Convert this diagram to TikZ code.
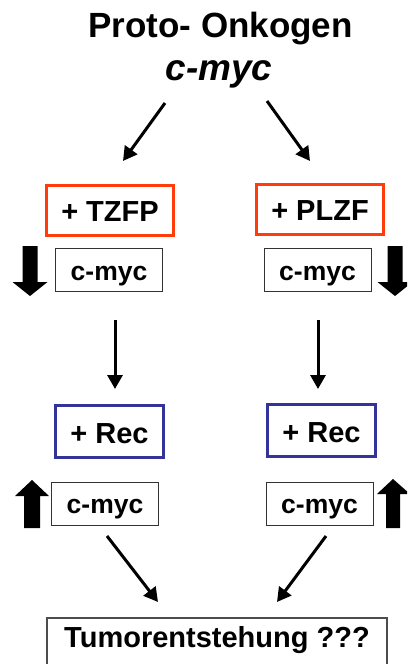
\documentclass[tikz,border=0pt]{standalone}
\usepackage{fontspec}
\setmainfont{Liberation Sans}
\usetikzlibrary{arrows.meta}
\definecolor{boxred}{RGB}{255,60,10}
\definecolor{boxblue}{RGB}{51,51,153}
\begin{document}
\begin{tikzpicture}[x=1pt,y=-1pt,
  fs/.style={font=\bfseries\fontsize{#1}{#1}\selectfont},
  redbox/.style={draw=boxred,line width=3pt,minimum width=127pt,minimum height=50pt,inner sep=0pt,text height=22.5pt,text depth=0pt,fs=29},
  bluebox/.style={draw=boxblue,line width=3pt,minimum width=108pt,minimum height=52pt,inner sep=0pt,text height=23.5pt,text depth=0pt,fs=29},
  genebox/.style={draw=black!80,line width=1pt,minimum width=107pt,minimum height=43pt,inner sep=0pt,text height=20pt,text depth=0pt,fs=26.5},
  flow/.style={line width=3pt,-{Triangle[length=14pt,width=15pt]}},
  blockarrow/.style={fill=black},
  framebox/.style={draw=black!70,line width=1.2pt}
]
\useasboundingbox (0,0) rectangle (407,664);
\clip (0,0) rectangle (407,664);

% title
\node[fs=35,anchor=base] (title) at (220.5,37) {Proto- Onkogen};
\node[font=\bfseries\itshape\fontsize{37}{37}\selectfont,anchor=base] (gene) at (219,80) {c-myc};

% red boxes
\node[redbox] (tzfp) at (110,210) {+ TZFP};
\node[redbox] (plzf) at (320,209.5) {+ PLZF};

% upper c-myc boxes
\node[genebox] (m1) at (109,270) {c-myc};
\node[genebox] (m2) at (317.5,270) {c-myc};

% blue boxes
\node[bluebox] (rec1) at (109.5,431.5) {+ Rec};
\node[bluebox] (rec2) at (321.5,430.5) {+ Rec};

% lower c-myc boxes
\node[genebox] (m3) at (105,503.5) {c-myc};
\node[genebox] (m4) at (319.5,503.5) {c-myc};

% final box (its lower edge lies beyond the picture)
\node[fs=29,anchor=base,inner sep=0pt] (tumor) at (217,647) {Tumorentstehung ???};
\draw[framebox] (47,680) -- (47,618) -- (387,618) -- (387,680);

% connector endpoints
\coordinate (a1s) at (165,103); \coordinate (a1e) at (123,161);
\coordinate (a2s) at (267,101); \coordinate (a2e) at (310,161);
\coordinate (v1s) at (115,320); \coordinate (v1e) at (115,389);
\coordinate (v2s) at (318,320); \coordinate (v2e) at (318,389);
\coordinate (b1s) at (107,536); \coordinate (b1e) at (158,602);
\coordinate (b2s) at (326,536); \coordinate (b2e) at (277,602);

\draw[flow] (a1s) -- (a1e);
\draw[flow] (a2s) -- (a2e);
\draw[flow] (v1s) -- (v1e);
\draw[flow] (v2s) -- (v2e);
\draw[flow] (b1s) -- (b1e);
\draw[flow] (b2s) -- (b2e);

% block arrows down
\fill[blockarrow] (22.5,246) -- (37.5,246) -- (37.5,282) -- (47.5,282) -- (30,296) -- (12.5,282) -- (22.5,282) -- cycle;
\fill[blockarrow] (387.5,246) -- (402.5,246) -- (402.5,282) -- (412.5,282) -- (395,296) -- (377.5,282) -- (387.5,282) -- cycle;
% block arrows up
\fill[blockarrow] (24,528) -- (40,528) -- (40,496) -- (49,496) -- (32,480) -- (15,496) -- (24,496) -- cycle;
\fill[blockarrow] (386,528) -- (400,528) -- (400,494) -- (410,494) -- (393,479) -- (377,494) -- (386,494) -- cycle;
\end{tikzpicture}
\end{document}
